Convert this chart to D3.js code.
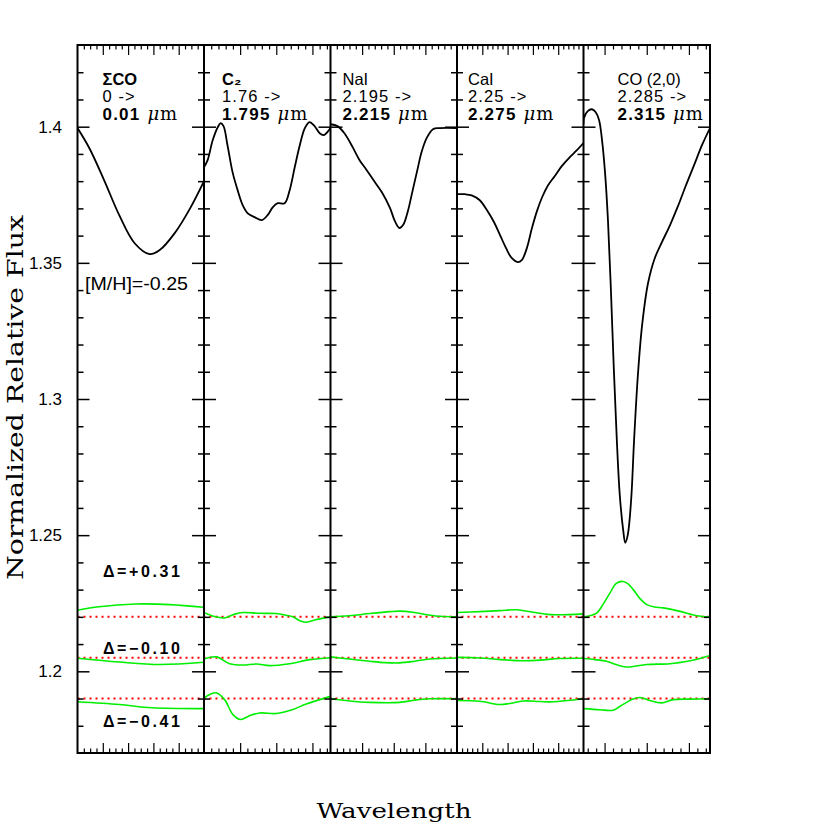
<!DOCTYPE html>
<html><head><meta charset="utf-8">
<script src="https://cdn.jsdelivr.net/npm/d3@7"></script>
<style>body{margin:0;background:#fff}</style>
</head><body>
<svg id="c" width="830" height="830"></svg>
<script>
// ---------- DATA ----------
const panelLine1 = ["ΣCO", "C₂", "NaI", "CaI", "CO (2,0)"];
const panelLine2 = ["0 ->", "1.76 ->", "2.195 ->", "2.25 ->", "2.285 ->"];
const panelLine3 = ["0.01", "1.795", "2.215", "2.275", "2.315"];
const panelStart = [0, 1.76, 2.195, 2.25, 2.285];
const panelEnd   = [0.01, 1.795, 2.215, 2.275, 2.315];
const xMajorStep = [0.002, 0.01, 0.005, 0.005, 0.01];
const xMinorStep = [0.0005, 0.002, 0.001, 0.001, 0.002];
const yTickLabels = ["1.2", "1.25", "1.3", "1.35", "1.4"];
const baselines = [1.22, 1.205, 1.19];
const deltaLabels = ["Δ=+0.31", "Δ=−0.10", "Δ=−0.41"];
const metallicityLabel = "[M/H]=-0.25";

// black model spectra, [wavelength, flux]
const specSigmaCO = [[0,1.3995],[0.00095,1.392],[0.0021,1.3804],[0.0033,1.3675],[0.0045,1.3573],[0.0057,1.3532],[0.0065,1.3547],[0.0077,1.361],[0.0089,1.370],[0.01,1.380]];
const specC2 = [[1.76,1.3851],[1.7610,1.3877],[1.7624,1.3950],[1.7638,1.3998],[1.7646,1.4013],[1.7654,1.4002],[1.7665,1.3932],[1.7679,1.3833],[1.7693,1.3767],[1.7707,1.3712],[1.7721,1.3682],[1.7740,1.3668],[1.7760,1.3657],[1.7776,1.3675],[1.7790,1.3704],[1.7804,1.3719],[1.7823,1.3719],[1.7837,1.3767],[1.7851,1.3851],[1.7865,1.3932],[1.7879,1.3995],[1.7892,1.4017],[1.7906,1.4002],[1.7920,1.3976],[1.7931,1.3969],[1.795,1.3995]];
const specNaI = [[2.195,1.4009],[2.1961,1.4002],[2.1972,1.3976],[2.1985,1.3925],[2.1996,1.3877],[2.2007,1.3841],[2.2020,1.3797],[2.2031,1.3760],[2.2044,1.3702],[2.2052,1.3652],[2.2059,1.3628],[2.2065,1.3640],[2.2072,1.3687],[2.2080,1.3767],[2.2088,1.3848],[2.2094,1.3907],[2.2102,1.3958],[2.2112,1.3991],[2.2123,1.3995],[2.215,1.3995]];
const specCaI = [[2.25,1.3752],[2.2515,1.3752],[2.2529,1.3748],[2.2545,1.3730],[2.2559,1.3694],[2.2573,1.3650],[2.2585,1.3602],[2.2597,1.3554],[2.2608,1.3518],[2.2620,1.3503],[2.2628,1.3510],[2.2638,1.3554],[2.2648,1.3627],[2.2658,1.3690],[2.2668,1.3740],[2.2680,1.3785],[2.2693,1.3818],[2.2707,1.3855],[2.2723,1.3888],[2.2737,1.3914],[2.275,1.3940]];
const specCO20 = [[2.285,1.401],[2.2851,1.4031],[2.2860,1.4057],[2.2870,1.4064],[2.2879,1.4053],[2.2887,1.4024],[2.2894,1.3950],[2.2901,1.3833],[2.2908,1.3657],[2.2915,1.3400],[2.2922,1.3107],[2.2929,1.2850],[2.2936,1.2648],[2.2944,1.2520],[2.2949,1.2472],[2.2955,1.2501],[2.2963,1.2630],[2.2970,1.2850],[2.2979,1.3088],[2.2989,1.3271],[2.3003,1.3425],[2.3019,1.3517],[2.3036,1.3576],[2.3055,1.3638],[2.3074,1.3708],[2.3093,1.3785],[2.3112,1.3858],[2.3131,1.3932],[2.315,1.3995]];

// green difference spectra (offset), one array per panel
const diffPlus031 = [
  [[0,1.2224],[0.0017,1.2237],[0.0046,1.2247],[0.0073,1.2245],[0.01,1.2235]],
  [[1.76,1.2216],[1.7629,1.2201],[1.7657,1.2196],[1.7685,1.2210],[1.7708,1.2216],[1.7754,1.2213],[1.7800,1.2212],[1.7826,1.2206],[1.7846,1.2200],[1.7865,1.2186],[1.7883,1.2180],[1.7911,1.2190],[1.795,1.2200]],
  [[2.195,1.2200],[2.1980,1.2204],[2.2012,1.2212],[2.2044,1.2219],[2.2059,1.2221],[2.2080,1.2217],[2.2102,1.2208],[2.2123,1.2202],[2.215,1.2200]],
  [[2.25,1.2216],[2.2545,1.2219],[2.2585,1.2223],[2.2618,1.2226],[2.2650,1.2217],[2.2684,1.2208],[2.275,1.2211]],
  [[2.285,1.2200],[2.2881,1.2214],[2.2896,1.2245],[2.2913,1.2288],[2.2927,1.2322],[2.2944,1.2330],[2.2955,1.2322],[2.2968,1.2300],[2.2984,1.2267],[2.3000,1.2245],[2.3019,1.2236],[2.3039,1.2233],[2.3079,1.2220],[2.3118,1.2204],[2.315,1.2200]]
];
const diffMinus010 = [
  [[0,1.2048],[0.0033,1.2034],[0.0065,1.2025],[0.01,1.2033]],
  [[1.76,1.2045],[1.7634,1.2053],[1.7671,1.2028],[1.7708,1.2023],[1.7745,1.2027],[1.7782,1.2021],[1.7837,1.2028],[1.7893,1.2043],[1.795,1.2050]],
  [[2.195,1.2053],[2.198,1.2045],[2.2012,1.2037],[2.2036,1.2032],[2.2059,1.2031],[2.2083,1.2037],[2.2107,1.2045],[2.215,1.2049]],
  [[2.25,1.2051],[2.2545,1.2049],[2.2585,1.2043],[2.2631,1.2039],[2.2664,1.2041],[2.2703,1.2047],[2.275,1.2048]],
  [[2.285,1.2047],[2.2877,1.2043],[2.2905,1.2037],[2.2927,1.2025],[2.2952,1.2016],[2.3000,1.2025],[2.3055,1.2028],[2.3103,1.2039],[2.3126,1.2047],[2.315,1.2058]]
];
const diffMinus041 = [
  [[0,1.1888],[0.0033,1.1878],[0.0059,1.1866],[0.01,1.1863]],
  [[1.76,1.1902],[1.7616,1.1915],[1.7634,1.1921],[1.7657,1.1896],[1.7680,1.1841],[1.7701,1.1823],[1.7726,1.1837],[1.7754,1.1847],[1.7800,1.1845],[1.7846,1.1860],[1.7883,1.1880],[1.795,1.1908]],
  [[2.195,1.1899],[2.198,1.1891],[2.2012,1.1886],[2.2059,1.1886],[2.2083,1.1894],[2.2107,1.1899],[2.215,1.1899]],
  [[2.25,1.1893],[2.2545,1.1890],[2.2585,1.1878],[2.2604,1.1882],[2.2631,1.1891],[2.2664,1.1889],[2.2690,1.1888],[2.275,1.1899]],
  [[2.285,1.1863],[2.2889,1.1859],[2.2920,1.1857],[2.2936,1.1871],[2.2952,1.1886],[2.2967,1.1898],[2.2984,1.1904],[2.3007,1.1893],[2.3035,1.1884],[2.3063,1.1896],[2.3102,1.1898],[2.315,1.1899]]
];

// ---------- LAYOUT ----------
const spectra = [specSigmaCO, specC2, specNaI, specCaI, specCO20];
const diffs = [diffPlus031, diffMinus010, diffMinus041];
const LEFT = 77.5, PW = 126.5, TOP = 45, BOT = 753, RIGHT = LEFT + 5 * PW;
const labelOffset = [25, 18, 12, 11, 34];
const SANS = "'Liberation Sans', Arial, sans-serif";
const SERIF = "'DejaVu Serif', 'Liberation Serif', serif";

const svg = d3.select("#c");
const y = d3.scaleLinear().domain([1.17, 1.43]).range([BOT, TOP]);

function ticksBetween(a, b, step) {
  const n0 = Math.ceil(a / step - 1e-6), n1 = Math.floor(b / step + 1e-6);
  return d3.range(n0, n1 + 1).map(k => +(k * step).toFixed(6))
    .filter(v => v > a + step * 0.01 && v < b - step * 0.01);
}
const yMajor = ticksBetween(1.17, 1.43, 0.05);
const yMinor = ticksBetween(1.17, 1.43, 0.01).filter(v => !yMajor.some(m => Math.abs(m - v) < 1e-6));

const defs = svg.append("defs");

// red dotted zero lines
baselines.forEach(b => {
  svg.append("line").attr("x1", LEFT).attr("x2", RIGHT).attr("y1", y(b)).attr("y2", y(b))
    .attr("stroke", "#ff0000").attr("stroke-width", 2).attr("stroke-dasharray", "2,4");
});

const lineGen = x => d3.line().x(d => x(d[0])).y(d => y(d[1])).curve(d3.curveCatmullRom.alpha(0.5));

function styleAxis(g, w) {
  g.select(".domain").remove();
  g.selectAll(".tick line").attr("stroke", "#000").attr("stroke-width", w);
  g.selectAll(".tick text").remove();
}

for (let i = 0; i < 5; i++) {
  const x0 = LEFT + i * PW;
  const x = d3.scaleLinear().domain([panelStart[i], panelEnd[i]]).range([x0, x0 + PW]);
  defs.append("clipPath").attr("id", "clip" + i).append("rect")
    .attr("x", x0).attr("y", TOP).attr("width", PW).attr("height", BOT - TOP);
  const g = svg.append("g").attr("clip-path", `url(#clip${i})`);

  diffs.forEach(d => {
    g.append("path").attr("d", lineGen(x)(d[i])).attr("fill", "none")
      .attr("stroke", "#00ee00").attr("stroke-width", 1.6);
  });
  g.append("path").attr("d", lineGen(x)(spectra[i])).attr("fill", "none")
    .attr("stroke", "#000").attr("stroke-width", 1.8);

  // x ticks
  const xMaj = ticksBetween(panelStart[i], panelEnd[i], xMajorStep[i]);
  const xMin = ticksBetween(panelStart[i], panelEnd[i], xMinorStep[i]).filter(v => !xMaj.some(m => Math.abs(m - v) < 1e-7));
  svg.append("g").attr("transform", `translate(0,${BOT})`)
    .call(d3.axisBottom(x).tickValues(xMin).tickSize(-4.5).tickFormat("")).call(g => styleAxis(g, 1.2));
  svg.append("g").attr("transform", `translate(0,${BOT})`)
    .call(d3.axisBottom(x).tickValues(xMaj).tickSize(-10).tickFormat("")).call(g => styleAxis(g, 1.2));
  svg.append("g").attr("transform", `translate(0,${TOP})`)
    .call(d3.axisTop(x).tickValues(xMin).tickSize(-4.5).tickFormat("")).call(g => styleAxis(g, 1.2));
  svg.append("g").attr("transform", `translate(0,${TOP})`)
    .call(d3.axisTop(x).tickValues(xMaj).tickSize(-10).tickFormat("")).call(g => styleAxis(g, 1.2));

  // y ticks both sides of every panel
  svg.append("g").attr("transform", `translate(${x0},0)`)
    .call(d3.axisLeft(y).tickValues(yMinor).tickSize(-6).tickFormat("")).call(g => styleAxis(g, 1.5));
  svg.append("g").attr("transform", `translate(${x0},0)`)
    .call(d3.axisLeft(y).tickValues(yMajor).tickSize(-12).tickFormat("")).call(g => styleAxis(g, 1.5));
  svg.append("g").attr("transform", `translate(${x0 + PW},0)`)
    .call(d3.axisRight(y).tickValues(yMinor).tickSize(-6).tickFormat("")).call(g => styleAxis(g, 1.5));
  svg.append("g").attr("transform", `translate(${x0 + PW},0)`)
    .call(d3.axisRight(y).tickValues(yMajor).tickSize(-12).tickFormat("")).call(g => styleAxis(g, 1.5));

  // header text
  const tx = x0 + labelOffset[i];
  svg.append("text").attr("x", tx).attr("y", 85).attr("font-family", SANS).attr("font-size", 16.5)
    .attr("font-weight", i < 2 ? "bold" : "normal").text(panelLine1[i]);
  svg.append("text").attr("x", tx).attr("y", 101.5).attr("font-family", SANS).attr("font-size", 16.5)
    .attr("letter-spacing", 1.1).text(panelLine2[i]);
  const t3 = svg.append("text").attr("x", tx).attr("y", 119.5).attr("font-family", SANS).attr("font-size", 17);
  t3.append("tspan").attr("font-weight", "bold").attr("letter-spacing", 1.2).text(panelLine3[i]);
  t3.append("tspan").attr("font-family", SERIF).attr("font-style", "italic").attr("font-size", 18).attr("dx", 7).text("μ");
  t3.append("tspan").attr("font-family", SERIF).attr("font-size", 18).attr("dx", 1).text("m");
}

// frame
svg.append("rect").attr("x", LEFT).attr("y", TOP).attr("width", RIGHT - LEFT).attr("height", BOT - TOP)
  .attr("fill", "none").attr("stroke", "#000").attr("stroke-width", 2);
for (let i = 1; i < 5; i++) {
  svg.append("line").attr("x1", LEFT + i * PW).attr("x2", LEFT + i * PW).attr("y1", TOP).attr("y2", BOT)
    .attr("stroke", "#000").attr("stroke-width", 2);
}

// y tick labels
yTickLabels.forEach(s => {
  svg.append("text").attr("x", 62).attr("y", y(+s)).attr("dy", "0.36em").attr("text-anchor", "end")
    .attr("font-family", SANS).attr("font-size", 17).text(s);
});

// delta labels
const deltaY = [577, 654, 727];
deltaLabels.forEach((s, k) => {
  svg.append("text").attr("x", 103).attr("y", deltaY[k]).attr("font-family", SANS).attr("font-size", 16)
    .attr("font-weight", "bold").attr("textLength", 77).attr("lengthAdjust", "spacing").text(s);
});

// metallicity label
svg.append("text").attr("x", 85).attr("y", 290).attr("font-family", SANS).attr("font-size", 18)
  .attr("textLength", 103).attr("lengthAdjust", "spacingAndGlyphs").text(metallicityLabel);

// axis titles
svg.append("text").attr("x", 394).attr("y", 818).attr("text-anchor", "middle").attr("font-family", SERIF)
  .attr("font-size", 21).attr("textLength", 155).attr("lengthAdjust", "spacingAndGlyphs").text("Wavelength");
svg.append("text").attr("transform", "translate(23,397.5) rotate(-90)").attr("text-anchor", "middle")
  .attr("font-family", SERIF).attr("font-size", 22).attr("textLength", 365).attr("lengthAdjust", "spacingAndGlyphs")
  .text("Normalized Relative Flux");
</script>
</body></html>
